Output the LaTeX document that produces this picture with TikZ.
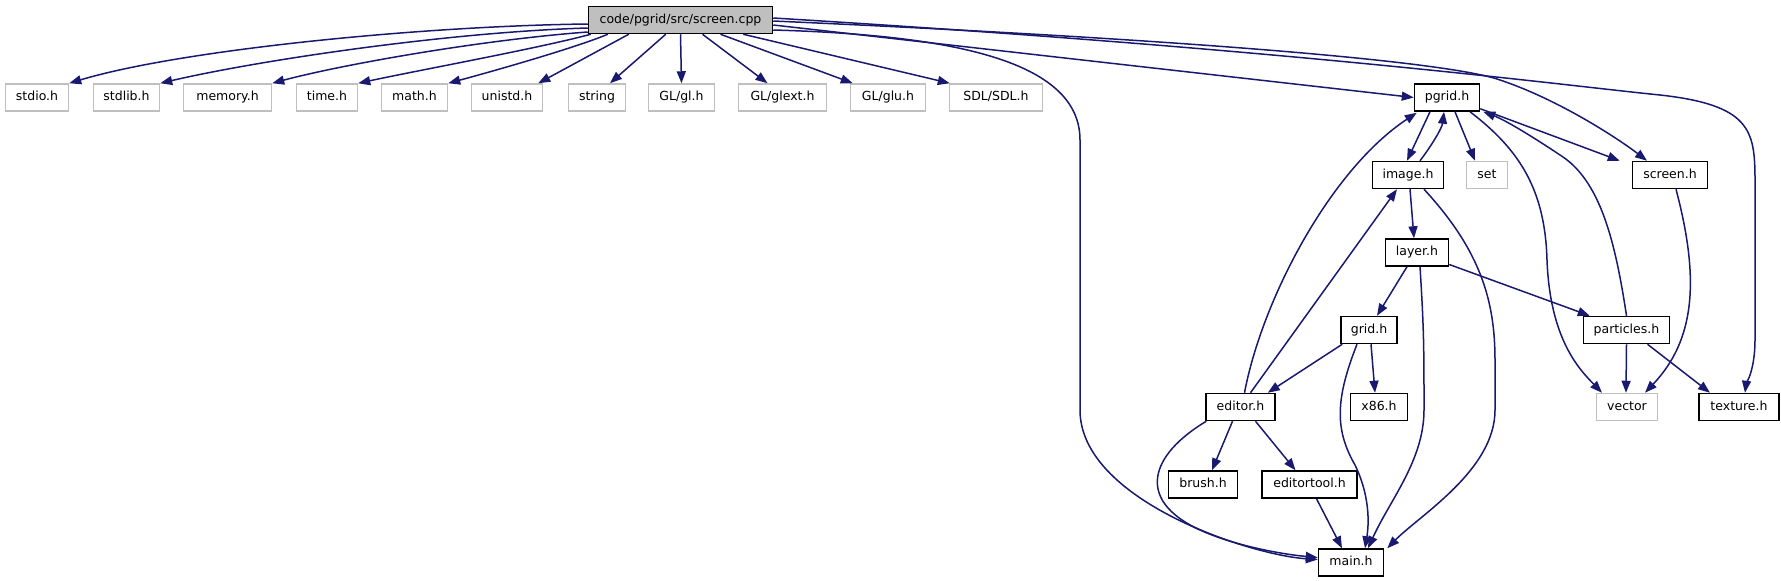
\documentclass[tikz,border=0pt]{standalone}
\usepackage{fontspec}
\setmainfont{DejaVu Sans}
\usetikzlibrary{arrows.meta,calc}
\definecolor{edgec}{RGB}{25,25,112}
\definecolor{extc}{RGB}{191,191,191}
\begin{document}
\begin{tikzpicture}[x=1pt,y=-1pt,
  box/.style={draw=black, line width=1.5pt, minimum height=27pt, inner sep=0pt,
    font=\fontsize{12.5}{14}\selectfont, text=black, text height=9pt, text depth=2.5pt},
  extbox/.style={box, draw=extc},
  rootbox/.style={box, fill=extc},
  edge/.style={draw=edgec, line width=1.5pt, -{Triangle[length=12pt,width=9pt]}}]
\useasboundingbox (0,0) rectangle (1781,581);
% nodes
\node[rootbox, minimum width=184pt] (root) at (680.5,20) {code/pgrid/src/screen.cpp};
\node[extbox, minimum width=63pt] (stdio) at (37,97.5) {stdio.h};
\node[extbox, minimum width=66pt] (stdlib) at (126.5,97.5) {stdlib.h};
\node[extbox, minimum width=88pt] (memory) at (227.5,97.5) {memory.h};
\node[extbox, minimum width=61pt] (time) at (327,97.5) {time.h};
\node[extbox, minimum width=66pt] (math) at (414.5,97.5) {math.h};
\node[extbox, minimum width=71pt] (unistd) at (507,97.5) {unistd.h};
\node[extbox, minimum width=57pt] (string) at (597,97.5) {string};
\node[extbox, minimum width=66pt] (gl) at (681.5,97.5) {GL/gl.h};
\node[extbox, minimum width=88pt] (glext) at (782.5,97.5) {GL/glext.h};
\node[extbox, minimum width=75pt] (glu) at (888,97.5) {GL/glu.h};
\node[extbox, minimum width=93pt] (sdl) at (996,97.5) {SDL/SDL.h};
\node[box, minimum width=65pt] (pgrid) at (1447,97.5) {pgrid.h};
\node[box, minimum width=71pt] (image) at (1408,175) {image.h};
\node[extbox, minimum width=41pt] (set) at (1487,175) {set};
\node[box, minimum width=75pt] (screen) at (1670,175) {screen.h};
\node[box, minimum width=63pt] (layer) at (1417,252.5) {layer.h};
\node[box, minimum width=56pt] (grid) at (1369,330) {grid.h};
\node[box, minimum width=86pt] (particles) at (1626.5,330) {particles.h};
\node[box, minimum width=69pt] (editor) at (1240.5,407) {editor.h};
\node[box, minimum width=57pt] (x86) at (1379,407) {x86.h};
\node[extbox, minimum width=61pt] (vector) at (1627,407) {vector};
\node[box, minimum width=80pt] (texture) at (1739,407) {texture.h};
\node[box, minimum width=69pt] (brush) at (1203,484.5) {brush.h};
\node[box, minimum width=95pt] (editortool) at (1309.5,484.5) {editortool.h};
\node[box, minimum width=65pt] (main) at (1351,562.5) {main.h};
% edges from root to top row
\draw[edge] ($(root.west)+(0,4)$) .. controls (420,26) and (180,50) .. (stdio.north east);
\draw[edge] ($(root.west)+(0,8)$) .. controls (450,32) and (260,60) .. (stdlib.north east);
\draw[edge] ($(root.west)+(0,12)$) .. controls (480,40) and (340,65) .. (memory.north east);
\draw[edge] ($(root.south west)+(3,0)$) .. controls (540,48) and (420,70) .. (time.north east);
\draw[edge] ($(root.south west)+(20,0)$) .. controls (575,48) and (490,72) .. (math.north east);
\draw[edge] ($(root.south west)+(41,0)$) -- ($(unistd.north east)+(-5,0)$);
\draw[edge] ($(root.south west)+(78,0)$) -- ($(string.north)+(13,0)$);
\draw[edge] (root.south) -- (gl.north);
\draw[edge] ($(root.south)+(22,0)$) -- ($(glext.north)+(-15,0)$);
\draw[edge] ($(root.south)+(40,0)$) -- ($(glu.north west)+(3,0)$);
\draw[edge] ($(root.south east)+(-30,0)$) -- ($(sdl.north west)+(1,0)$);
% root to right side
\draw[edge] ($(root.east)+(0,10)$) .. controls (950,35) and (1080,60) .. (1080,140)
   -- (1080,410) .. controls (1080,500) and (1250,555) .. ($(main.west)+(0,-3)$);
\draw[edge] ($(root.east)+(0,5)$) -- (pgrid.west);
\draw[edge] ($(root.east)+(0,1)$) .. controls (1200,40) and (1450,62) .. (1500,80)
   .. controls (1560,100) and (1620,140) .. ($(screen.north)+(-23,0)$);
\draw[edge] ($(root.east)+(0,-2)$) .. controls (1300,50) and (1560,85) .. (1660,95)
   .. controls (1750,105) and (1755,130) .. (1755,180) -- (1755,340)
   .. controls (1755,370) and (1746,385) .. ($(texture.north)+(6,0)$);
% pgrid edges
\draw[edge] ($(pgrid.south)+(-17,0)$) -- ($(image.north)+(-1,0)$);
\draw[edge] ($(image.north)+(12,0)$) .. controls (1432,145) and (1442,128) .. ($(pgrid.south)+(-3,0)$);
\draw[edge] ($(pgrid.south)+(8,0)$) -- ($(set.north)+(-12,0)$);
\draw[edge] ($(pgrid.south east)+(0,-3)$) -- ($(screen.north west)+(-12,0)$);
\draw[edge] ($(pgrid.south)+(23,0)$) .. controls (1520,150) and (1545,190) .. (1547,260)
   .. controls (1550,340) and (1580,370) .. ($(vector.north)+(-25,0)$);
\draw[edge] (particles.north) .. controls (1615,240) and (1600,180) .. (1560,155)
   .. controls (1530,135) and (1505,120) .. ($(pgrid.south east)+(3,0)$);
% image edges
\draw[edge] ($(image.south)+(2,0)$) -- ($(layer.north)+(-3,0)$);
\draw[edge] ($(image.south)+(16,0)$) .. controls (1480,250) and (1495,300) .. (1495,360)
   -- (1495,410) .. controls (1495,470) and (1420,515) .. ($(main.north east)+(3,0)$);
% editor edges
\draw[edge] ($(editor.north)+(10,0)$) -- ($(image.south)+(-11,0)$);
\draw[edge] ($(editor.north)+(4,0)$) .. controls (1262,300) and (1330,170) .. ($(pgrid.south west)+(3,1)$);
\draw[edge] ($(editor.south)+(-8,0)$) -- ($(brush.north)+(9,0)$);
\draw[edge] ($(editor.south)+(15,0)$) -- ($(editortool.north)+(-14,0)$);
\draw[edge] ($(editor.south west)+(1,0)$) .. controls (1150,455) and (1135,500) .. (1200,530)
   .. controls (1240,548) and (1290,555) .. ($(main.west)+(0,-5)$);
% layer edges
\draw[edge] ($(layer.south)+(-10,0)$) -- ($(grid.north)+(8,0)$);
\draw[edge] ($(layer.east)+(0,12)$) -- ($(particles.north west)+(7,0)$);
\draw[edge] ($(layer.south)+(3,0)$) .. controls (1424,330) and (1424,350) .. (1424,410)
   .. controls (1424,460) and (1390,500) .. ($(main.north)+(17,0)$);
% grid edges
\draw[edge] ($(grid.south west)+(2,0)$) -- ($(editor.north east)+(-8,0)$);
\draw[edge] ($(grid.south)+(2,0)$) -- ($(x86.north)+(-4,0)$);
\draw[edge] ($(grid.south)+(-12,0)$) .. controls (1335,400) and (1335,430) .. (1355,465)
   .. controls (1372,500) and (1368,530) .. ($(main.north)+(14,0)$);
% particles edges
\draw[edge] (particles.south) -- ($(vector.north)+(-1,0)$);
\draw[edge] ($(particles.south)+(21,0)$) -- ($(texture.north)+(-29,0)$);
% screen edges
\draw[edge] ($(screen.south)+(6,0)$) .. controls (1700,280) and (1695,340) .. ($(vector.north)+(18,0)$);
% editortool
\draw[edge] ($(editortool.south)+(7,0)$) -- ($(main.north)+(-9,0)$);
\end{tikzpicture}
\end{document}
